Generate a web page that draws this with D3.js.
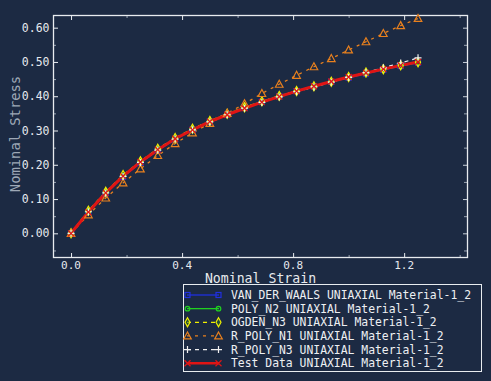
<!DOCTYPE html>
<html><head><meta charset="utf-8">
<script src="https://cdn.jsdelivr.net/npm/d3@7"></script>
<style>
html,body{margin:0;padding:0;background:#1c2a43;}
svg{display:block;}
</style></head>
<body>
<script>
const strain = [0, 0.0625, 0.125, 0.1875, 0.25, 0.3125, 0.375, 0.4375, 0.5, 0.5625, 0.625, 0.6875, 0.75, 0.8125, 0.875, 0.9375, 1.0, 1.0625, 1.125, 1.1875, 1.25];
const vanDerWaals = [0, 0.062, 0.117, 0.165, 0.206, 0.243, 0.274, 0.302, 0.326, 0.347, 0.366, 0.384, 0.400, 0.415, 0.429, 0.442, 0.454, 0.466, 0.477, 0.488, 0.498];
const polyN2 = [0, 0.064, 0.120, 0.168, 0.209, 0.245, 0.276, 0.303, 0.327, 0.348, 0.367, 0.384, 0.400, 0.415, 0.429, 0.442, 0.455, 0.467, 0.478, 0.489, 0.499];
const ogdenN3 = [0, 0.066, 0.121, 0.170, 0.210, 0.247, 0.278, 0.305, 0.328, 0.349, 0.368, 0.385, 0.401, 0.415, 0.429, 0.442, 0.456, 0.469, 0.479, 0.490, 0.499];
const rPolyN1 = [0, 0.054, 0.103, 0.147, 0.188, 0.227, 0.262, 0.293, 0.321, 0.350, 0.378, 0.408, 0.435, 0.461, 0.486, 0.510, 0.535, 0.559, 0.583, 0.606, 0.627];
const rPolyN3 = [0, 0.063, 0.118, 0.166, 0.207, 0.243, 0.275, 0.302, 0.325, 0.346, 0.365, 0.382, 0.398, 0.413, 0.427, 0.441, 0.455, 0.469, 0.483, 0.497, 0.512];
const testData = [0, 0.062, 0.118, 0.167, 0.208, 0.244, 0.276, 0.302, 0.326, 0.346, 0.365, 0.383, 0.399, 0.415, 0.429, 0.443, 0.456, 0.468, 0.479, 0.490, 0.500];
const legendLabels = [
  "VAN_DER_WAALS UNIAXIAL Material-1_2",
  "POLY_N2 UNIAXIAL Material-1_2",
  "OGDEN_N3 UNIAXIAL Material-1_2",
  "R_POLY_N1 UNIAXIAL Material-1_2",
  "R_POLY_N3 UNIAXIAL Material-1_2",
  "Test Data UNIAXIAL Material-1_2"
];
const xMajorTicks = [0, 0.4, 0.8, 1.2];
const xMinorTicks = [0.2, 0.6, 1.0, 1.4];
const yMajorTicks = [0, 0.1, 0.2, 0.3, 0.4, 0.5, 0.6];
const yMinorTicks = [-0.05, 0.05, 0.15, 0.25, 0.35, 0.45, 0.55];

const W = 491, H = 381;
const L = 53, R = 468, T = 15, B = 258;
const x = d3.scaleLinear().domain([-0.065, 1.43]).range([L, R]);
const y = d3.scaleLinear().domain([-0.072, 0.637]).range([B, T]);

const svg = d3.select("body").append("svg").attr("width", W).attr("height", H);
svg.append("rect").attr("width", W).attr("height", H).attr("fill", "#1c2a43");

const mono = "'DejaVu Sans Mono', 'Liberation Mono', monospace";
const frameCol = "#e8ecf0", minorCol = "#9aa4b2";

function ax(gen, tx, ty, ticks, len, col) {
  const g = svg.append("g").attr("transform", `translate(${tx},${ty})`)
    .call(gen.tickValues(ticks).tickSize(len).tickFormat(""));
  g.select(".domain").remove();
  g.selectAll(".tick line").attr("stroke", col).attr("stroke-width", 1);
  return g;
}
const fx = d3.format(".1f"), fy = d3.format(".2f");
// bottom
ax(d3.axisTop(x), 0, B, xMinorTicks, 3, minorCol);
ax(d3.axisTop(x), 0, B, xMajorTicks, 5, frameCol);
svg.append("g").selectAll("text").data(xMajorTicks).join("text")
  .attr("x", d => x(d)).attr("y", 269).attr("text-anchor", "middle")
  .attr("fill", "#e6e9ee").style("font-family", mono).style("font-size", "11px").text(fx);
// top
ax(d3.axisBottom(x), 0, T, xMinorTicks, 3, minorCol);
ax(d3.axisBottom(x), 0, T, xMajorTicks, 5, frameCol);
// left
ax(d3.axisRight(y), L, 0, yMinorTicks, 3, minorCol);
ax(d3.axisRight(y), L, 0, yMajorTicks, 5, frameCol);
svg.append("g").selectAll("text").data(yMajorTicks).join("text")
  .attr("x", 49.5).attr("y", d => y(d) + 4).attr("text-anchor", "end")
  .attr("fill", "#e6e9ee").style("font-family", mono).style("font-size", "11.5px").text(fy);
// right
ax(d3.axisLeft(y), R, 0, yMinorTicks, 4, minorCol);
ax(d3.axisLeft(y), R, 0, yMajorTicks, 5, "#c8d0da");

// frame
svg.append("rect").attr("x", L + 0.5).attr("y", T + 0.5).attr("width", R - L - 1).attr("height", B - T - 1)
  .attr("fill", "none").attr("stroke", frameCol).attr("stroke-width", 1.3);

// axis titles
svg.append("text").attr("x", (L + R) / 2).attr("y", 283).attr("text-anchor", "middle")
  .attr("fill", "#e8eaee").style("font-family", mono).style("font-size", "13.2px").text("Nominal Strain");
svg.append("text").attr("transform", "translate(19.5,134) rotate(-90)").attr("text-anchor", "middle")
  .attr("fill", "#9ea8b6").style("font-family", mono).style("font-size", "13.8px").text("Nominal Stress");

// series
const series = [
  {vals: vanDerWaals, color: "#2030e0", dash: null, w: 1.5, marker: "square"},
  {vals: polyN2, color: "#20d020", dash: null, w: 1.5, marker: "circle"},
  {vals: ogdenN3, color: "#f0f000", dash: "4,4", w: 1.3, marker: "diamond"},
  {vals: rPolyN1, color: "#e8801e", dash: "3,5", w: 1.3, marker: "triangle"},
  {vals: rPolyN3, color: "#f0f0f0", dash: "4,4", w: 1.2, marker: "plus"},
  {vals: testData, color: "#e01414", dash: null, w: 3, marker: "cross"}
];
const line = d3.line().x(d => x(d[0])).y(d => y(d[1]));
const plot = svg.append("g");
series.forEach(s => {
  plot.append("path").datum(strain.map((t, i) => [t, s.vals[i]]))
    .attr("d", line).attr("fill", "none").attr("stroke", s.color)
    .attr("stroke-width", s.w).attr("stroke-dasharray", s.dash);
});

function drawMarker(g, type, cx, cy, color) {
  if (type === "square") {
    g.append("rect").attr("x", cx - 2.5).attr("y", cy - 2.5).attr("width", 5).attr("height", 5)
      .attr("fill", "none").attr("stroke", color).attr("stroke-width", 1.2);
  } else if (type === "circle") {
    g.append("circle").attr("cx", cx).attr("cy", cy).attr("r", 2.3)
      .attr("fill", "none").attr("stroke", color).attr("stroke-width", 1.2);
  } else if (type === "diamond") {
    g.append("path").attr("d", `M${cx},${cy - 4.5}L${cx + 2.5},${cy}L${cx},${cy + 4.5}L${cx - 2.5},${cy}Z`)
      .attr("fill", "#2a6a30").attr("fill-opacity", 0.5).attr("stroke", color).attr("stroke-width", 1.2);
  } else if (type === "triangle") {
    g.append("path").attr("d", `M${cx},${cy - 4}L${cx + 3.8},${cy + 3}L${cx - 3.8},${cy + 3}Z`)
      .attr("fill", "none").attr("stroke", color).attr("stroke-width", 1.2);
  } else if (type === "plus") {
    g.append("path").attr("d", `M${cx - 3.5},${cy}H${cx + 3.5}M${cx},${cy - 3.5}V${cy + 3.5}`)
      .attr("stroke", color).attr("stroke-width", 1.2);
  } else if (type === "cross") {
    g.append("path").attr("d", `M${cx - 3},${cy - 3}L${cx + 3},${cy + 3}M${cx - 3},${cy + 3}L${cx + 3},${cy - 3}`)
      .attr("stroke", color).attr("stroke-width", 1.2);
  }
}
series.forEach(s => {
  strain.forEach((t, i) => drawMarker(plot, s.marker, x(t), y(s.vals[i]), s.color));
});

// legend
const lg = svg.append("g");
lg.append("rect").attr("x", 183.5).attr("y", 284.5).attr("width", 298).attr("height", 87)
  .attr("fill", "#1c2a43").attr("stroke", "#e8ecf0").attr("stroke-width", 1);
series.forEach((s, i) => {
  const cy = 295 + i * 13.65;
  lg.append("line").attr("x1", 187).attr("x2", 219).attr("y1", cy).attr("y2", cy)
    .attr("stroke", s.color).attr("stroke-width", s.w === 3 ? 2.5 : 1.3).attr("stroke-dasharray", s.dash);
  drawMarker(lg, s.marker, 187.5, cy, s.color);
  drawMarker(lg, s.marker, 218.5, cy, s.color);
  lg.append("text").attr("x", 231).attr("y", cy + 4).attr("fill", "#eef0f3")
    .style("font-family", mono).style("font-size", "11.4px").text(legendLabels[i]);
});
</script>
</body></html>
